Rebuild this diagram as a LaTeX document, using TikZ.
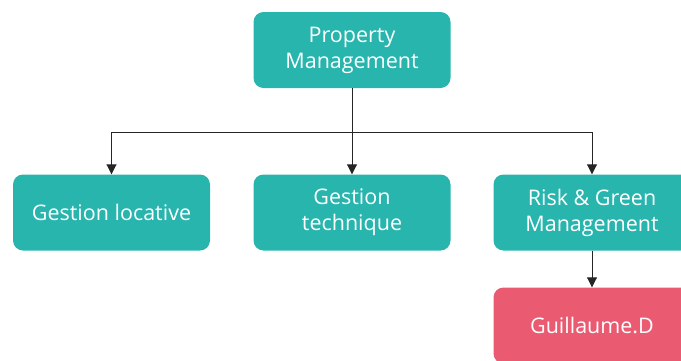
\documentclass[tikz,border=0pt]{standalone}
\usepackage{fontspec}
\setmainfont{Open Sans}
\usetikzlibrary{arrows.meta}
\definecolor{teal_box}{HTML}{27B5AE}
\definecolor{red_box}{HTML}{EA5B72}
\tikzstyle{unit_box}=[rectangle, rounded corners=10pt, minimum width=197pt,
    minimum height=76pt, text=white, align=center,
    font=\fontsize{21.5}{26}\selectfont]
\tikzstyle{dept}=[unit_box, fill=teal_box]
\tikzstyle{person}=[unit_box, fill=red_box]
\tikzstyle{link}=[draw=black!85, line width=0.9pt, -{Triangle[length=10pt,width=10pt]}]

\begin{document}
\begin{tikzpicture}[x=1pt, y=-1pt]
          \useasboundingbox (0,0) rectangle (681,360);
          \clip (0,0) rectangle (681,360);
          \node[dept] (pm) at (352,50){Property\\Management};
          \node[dept] (locative) at (111.5,212.5){Gestion locative};
          \node[dept] (technique) at (352,212.5){Gestion\\technique};
          \node[dept] (risk) at (592,212.5){Risk \& Green\\Management};
          \node[person] (guillaume) at (592,325.5){Guillaume.D};
          \coordinate (split) at (352,132);
          \draw[draw=black!85, line width=0.9pt](pm) -- (split);
          \draw[link](split) -| (locative);
          \draw[link](split) -- (technique);
          \draw[link](split) -| (risk);
          \draw[link](risk) -- (guillaume);
        \end{tikzpicture}
\end{document}
